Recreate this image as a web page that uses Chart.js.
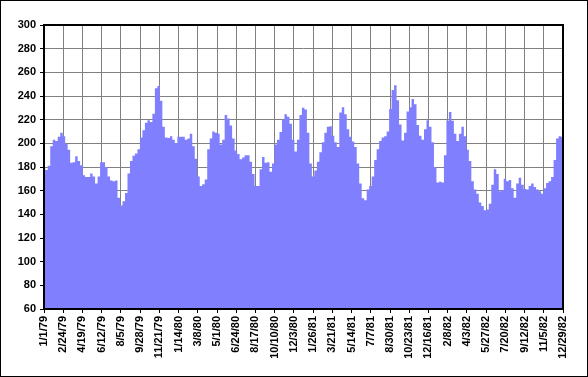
<!DOCTYPE html>
<html>
<head>
<meta charset="utf-8">
<script src="https://cdn.jsdelivr.net/npm/chart.js@4.4.1/dist/chart.umd.min.js"></script>
<style>
  body { margin: 0; background: #fff; }
</style>
</head>
<body>
<canvas id="canvas" width="588" height="377"></canvas>
<script>
// weekly readings, first week = 1/1/79
var startDate = [1979, 0, 1];
var weekValues = [
  179, 177.5, 181, 197.5, 203, 202, 205.5, 209, 206, 199.5, 194.5, 183.5, 184, 189, 185, 181.5,
  173, 171.5, 171.5, 174.5, 172, 166, 172, 184, 184, 180, 172, 168.5, 168, 168.5, 154, 147.5,
  151, 158, 174.5, 185, 189.5, 191.5, 195, 205, 211, 217.5, 219.5, 218, 225, 246.5, 248.5, 236,
  214, 205, 204.5, 206, 203,
  200, 205.5, 205.5, 205.5, 203, 204, 208, 197.5, 187, 172, 164, 165.5, 169.5, 195, 204, 210,
  209, 208, 199, 203, 224, 221, 215, 204, 194, 191, 186.5, 188, 190, 190, 184.5, 174,
  164, 164, 178, 188.5, 183.5, 184, 176, 183, 199, 203, 209.5, 220, 224.5, 222.5, 216.5, 203,
  193, 203, 224, 230,
  228.5, 209, 183, 172, 177, 184.5, 192.5, 201, 209, 214, 214.5, 206.5, 201, 197, 226, 230.5,
  224.5, 212, 205.5, 201.5, 197, 183, 166, 153.5, 152, 161, 164, 172, 186, 195, 202, 205,
  206, 210, 229, 245, 249, 236.5, 216, 202.5, 209, 227, 230.5, 237.5, 233, 215.5, 206.5, 203,
  212, 219.5, 214, 201,
  180, 167, 167.5, 167, 190, 219, 226.5, 219, 208, 202, 208, 214, 206, 194.5, 185, 168,
  161, 157.5, 150, 147, 143.5, 144, 149, 165, 178, 174, 159.5, 160.5, 170, 168, 169, 162,
  154, 166, 171, 165, 161.5, 161, 164, 166, 163, 161, 159.5, 157.5, 162, 166.5, 168, 171.5,
  186, 204, 206, 205.5
];
var xTickDays = [0, 54, 108, 162, 216, 270, 324, 378, 432, 486, 540, 594, 648, 702,
  756, 810, 864, 918, 972, 1026, 1080, 1134, 1188, 1242, 1296, 1350, 1404, 1458];
var xTickLabels = ['1/1/79', '2/24/79', '4/19/79', '6/12/79', '8/5/79', '9/28/79', '11/21/79',
  '1/14/80', '3/8/80', '5/1/80', '6/24/80', '8/17/80', '10/10/80', '12/3/80', '1/26/81',
  '3/21/81', '5/14/81', '7/7/81', '8/30/81', '10/23/81', '12/16/81', '2/8/82', '4/3/82',
  '5/27/82', '7/20/82', '9/12/82', '11/5/82', '12/29/82'];
var yTicks = [60, 80, 100, 120, 140, 160, 180, 200, 220, 240, 260, 280, 300];

var points = weekValues.map(function (v, i) { return { x: i * 7, y: v }; });

var font = { family: 'Liberation Sans, Arial, sans-serif', size: 11, weight: 'bold' };

// frame of the plot area and outer chart border
var framePlugin = {
  id: 'frame',
  afterDatasetsDraw: function (chart) {
    var c = chart.ctx, a = chart.chartArea;
    c.save();
    c.strokeStyle = '#000';
    c.lineWidth = 2;
    c.strokeRect(a.left, a.top, a.right - a.left, a.bottom - a.top);
    c.lineWidth = 1;
    c.strokeRect(0.5, 0.5, chart.width - 1, chart.height - 1);
    c.restore();
  }
};

var chart = new Chart(document.getElementById('canvas'), {
  type: 'line',
  data: {
    datasets: [{
      data: points,
      backgroundColor: '#8080FF',
      borderWidth: 0,
      borderColor: 'rgba(0,0,0,0)',
      pointRadius: 0,
      fill: 'start',
      stepped: 'middle'
    }]
  },
  options: {
    responsive: false,
    animation: { duration: 0 },
    layout: { padding: { left: 0, top: 25, right: 25, bottom: 0 } },
    plugins: { legend: { display: false }, tooltip: { enabled: false } },
    scales: {
      x: {
        type: 'linear',
        min: 0,
        max: 1458,
        afterBuildTicks: function (scale) {
          scale.ticks = xTickDays.map(function (d) { return { value: d }; });
        },
        afterFit: function (scale) { scale.height = 68; },
        grid: { color: '#808080', lineWidth: 1, tickColor: '#000', tickLength: 4 },
        border: { display: false },
        ticks: {
          autoSkip: false,
          maxRotation: 90,
          minRotation: 90,
          padding: 3,
          color: '#000',
          font: font,
          callback: function (v) { return xTickLabels[xTickDays.indexOf(v)]; }
        }
      },
      y: {
        min: 60,
        max: 300,
        afterBuildTicks: function (scale) {
          scale.ticks = yTicks.map(function (t) { return { value: t }; });
        },
        afterFit: function (scale) { scale.width = 44; },
        grid: { color: '#808080', lineWidth: 1, tickColor: '#000', tickLength: 4 },
        border: { display: false },
        ticks: { padding: 4, color: '#000', font: font }
      }
    }
  },
  plugins: [framePlugin]
});
</script>
</body>
</html>
